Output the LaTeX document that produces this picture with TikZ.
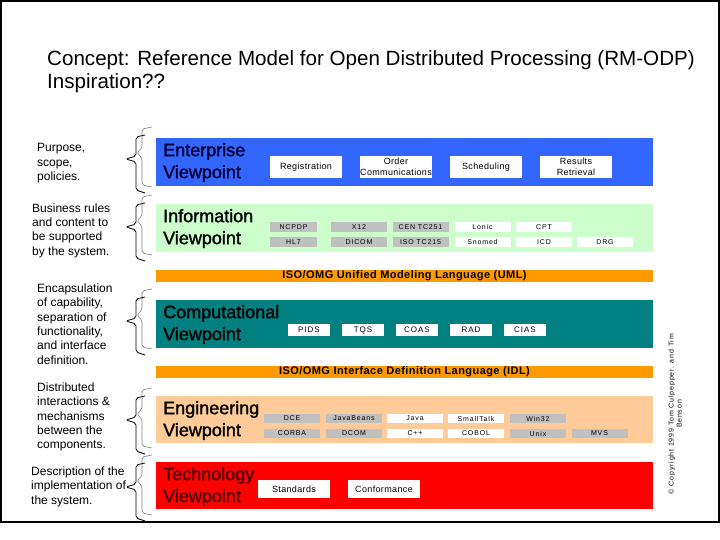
\documentclass[tikz,border=0pt]{standalone}
\usepackage{fontspec}
\setmainfont{Liberation Sans}
\newfontfamily\lsfont[LetterSpace=12]{Liberation Sans}
\newfontfamily\lsmfont[LetterSpace=4]{Liberation Sans}
\newfontfamily\vpfont[FakeBold=1.6]{Liberation Sans}
\definecolor{entblue}{RGB}{51,102,255}
\definecolor{infogreen}{RGB}{204,255,204}
\definecolor{barorange}{RGB}{255,153,0}
\definecolor{compteal}{RGB}{0,128,128}
\definecolor{engpeach}{RGB}{255,204,153}
\definecolor{techred}{RGB}{255,0,0}
\definecolor{boxgray}{RGB}{192,192,192}
\definecolor{navytext}{RGB}{0,0,51}
\definecolor{darkredtext}{RGB}{80,0,0}
\tikzset{
  band/.style={rectangle, inner sep=0pt, minimum width=497pt, draw=none},
  bar/.style={rectangle, inner sep=0pt, minimum width=497pt, minimum height=12pt, fill=barorange,
    font=\lsmfont\bfseries\fontsize{11}{12}\selectfont},
  vplabel/.style={anchor=west, align=left, inner sep=0pt, font=\vpfont\fontsize{18}{22}\selectfont},
  desc/.style={anchor=west, align=left, inner sep=0pt, font=\fontsize{12}{14.4}\selectfont},
  ebox/.style={rectangle, fill=white, inner sep=0pt, minimum width=72pt, minimum height=22pt,
    align=center, font=\lsmfont\fontsize{9}{11}\selectfont},
  tbox/.style={ebox, minimum height=18pt},
  ibox/.style={rectangle, inner sep=0pt, minimum width=56pt, minimum height=10pt,
    font=\lsfont\fontsize{7}{8}\selectfont},
  cbox/.style={rectangle, fill=white, inner sep=0pt, minimum width=42pt, minimum height=12pt,
    font=\lsfont\fontsize{8}{9}\selectfont},
  gbox/.style={ibox, minimum height=9pt},
  vpbrace/.pic={
    \draw[black!50, line width=0.6pt, rounded corners=2pt]
      (152,-35) -- (142,-33) -- (142,-14) -- (137,-9) -- (142,-4) -- (142,23) -- (152,25);
    \draw[black, line width=0.8pt, rounded corners=2pt]
      (145,-27) -- (136,-25) -- (136,-6) -- (126,-3) -- (136,0) -- (136,28) -- (145,31);
  }
}
\begin{document}
\begin{tikzpicture}[x=1pt,y=-1pt]
\useasboundingbox (0,0) rectangle (720,540);
\fill[white] (0,0) rectangle (720,540);
\draw[line width=1.6pt] (1,1) rectangle (719,522);

% title
\node[anchor=west, align=left, inner sep=0pt, font=\fontsize{20.6}{23.5}\selectfont] (title) at (47,71.5)
  {Concept: Reference Model for Open Distributed Processing (RM-ODP)\\Inspiration??};

% bands
\node[band, fill=entblue, minimum height=48pt] (ent) at (404.5,162) {};
\node[band, fill=infogreen, minimum height=48pt] (info) at (404.5,228) {};
\node[bar] (uml) at (404.5,276) {ISO/OMG Unified Modeling Language (UML)};
\node[band, fill=compteal, minimum height=48pt] (comp) at (404.5,324) {};
\node[bar] (idl) at (404.5,372) {ISO/OMG Interface Definition Language (IDL)};
\node[band, fill=engpeach, minimum height=47pt] (eng) at (404.5,419.5) {};
\node[band, fill=techred, minimum height=47pt] (tech) at (404.5,485.5) {};

% viewpoint labels
\node[vplabel, text=navytext] (entlab) at (163,162.5) {Enterprise\\Viewpoint};
\node[vplabel, text=black] (infolab) at (163,228.5) {Information\\Viewpoint};
\node[vplabel, text=black] (complab) at (163,324.5) {Computational\\Viewpoint};
\node[vplabel, text=black] (englab) at (163,420.5) {Engineering\\Viewpoint};
\node[vplabel, text=darkredtext] (techlab) at (163,486.5) {Technology\\Viewpoint};

% enterprise boxes
\node[ebox] (reg) at (306,167) {Registration};
\node[ebox] (order) at (396,167) {Order\\Communications};
\node[ebox] (sched) at (486,167) {Scheduling};
\node[ebox] (res) at (576,167) {Results\\Retrieval};

% information boxes
\node[ibox, fill=boxgray, minimum width=47pt] (ncpdp) at (293.5,227) {NCPDP};
\node[ibox, fill=boxgray] (x12) at (359,227) {X12};
\node[ibox, fill=boxgray] (cen) at (420.5,227) {CEN TC251};
\node[ibox, fill=white] (lonic) at (482.5,227) {Lonic};
\node[ibox, fill=white] (cpt) at (544,227) {CPT};
\node[ibox, fill=boxgray, minimum width=47pt] (hl7) at (293.5,242) {HL7};
\node[ibox, fill=boxgray] (dicom) at (359,242) {DICOM};
\node[ibox, fill=boxgray] (iso) at (420.5,242) {ISO TC215};
\node[ibox, fill=white] (snomed) at (482.5,242) {Snomed};
\node[ibox, fill=white] (icd) at (544,242) {ICD};
\node[ibox, fill=white] (drg) at (605,242) {DRG};

% computational boxes
\node[cbox] (pids) at (309,330) {PIDS};
\node[cbox] (tqs) at (363,330) {TQS};
\node[cbox] (coas) at (417,330) {COAS};
\node[cbox] (rad) at (471,330) {RAD};
\node[cbox] (cias) at (525,330) {CIAS};

% engineering boxes
\node[gbox, fill=boxgray] (dce) at (292,418.5) {DCE};
\node[gbox, fill=boxgray] (jb) at (354,418.5) {JavaBeans};
\node[gbox, fill=white] (java) at (415,418.5) {Java};
\node[gbox, fill=white] (st) at (476,418.5) {SmallTalk};
\node[gbox, fill=boxgray] (win) at (538,418.5) {Win32};
\node[gbox, fill=boxgray] (corba) at (292,433.5) {CORBA};
\node[gbox, fill=boxgray] (dcom) at (354,433.5) {DCOM};
\node[gbox, fill=white] (cpp) at (415,433.5) {C++};
\node[gbox, fill=white] (cobol) at (476,433.5) {COBOL};
\node[gbox, fill=boxgray] (unix) at (538,433.5) {Unix};
\node[gbox, fill=boxgray] (mvs) at (599.5,433.5) {MVS};

% technology boxes
\node[tbox] (std) at (294,489) {Standards};
\node[tbox] (conf) at (384,489) {Conformance};

% left descriptions
\node[desc] (d1) at (37,163.5) {Purpose,\\scope,\\policies.};
\node[desc] (d2) at (32,230.5) {Business rules\\and content to\\be supported\\by the system.};
\node[desc] (d3) at (37,324) {Encapsulation\\of capability,\\separation of\\functionality,\\and interface\\definition.};
\node[desc] (d4) at (37,417) {Distributed\\interactions \&\\mechanisms\\between the\\components.};
\node[desc] (d5) at (31,486.5) {Description of the\\implementation of\\the system.};

% braces
\pic (b1) at (0,162) {vpbrace};
\pic (b2) at (0,230) {vpbrace};
\pic (b3) at (0,324) {vpbrace};
\pic (b4) at (0,423) {vpbrace};
\pic (b5) at (0,490) {vpbrace};

% copyright
\node[rotate=90, align=center, inner sep=0pt, font=\lsfont\fontsize{7}{8}\selectfont] (copy) at (675,414)
  {© Copyright 1999 Tom Culpepper. and Tim\\Benson};
\end{tikzpicture}
\end{document}
